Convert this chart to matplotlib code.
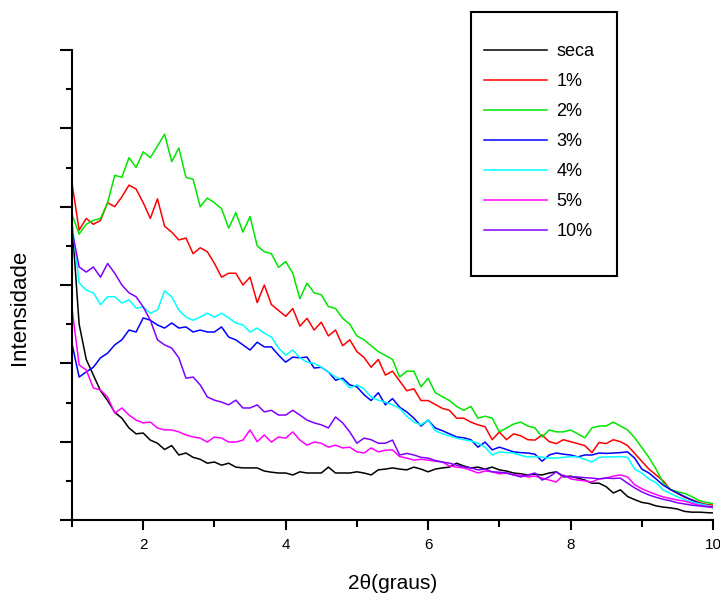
import numpy as np
import matplotlib
matplotlib.use("Agg")
import matplotlib.pyplot as plt
from matplotlib.patches import Rectangle
from matplotlib.ticker import MultipleLocator

plt.rcParams['font.family'] = ['Liberation Sans', 'DejaVu Sans']

# 2theta scan grid (instrument step)
two_theta = np.round(np.arange(1.0, 10.001, 0.1), 1)

seca = [7.6, 5.0, 4.1, 3.7, 3.3, 3.05, 2.75, 2.6, 2.35, 2.2,
        2.22, 2.04, 1.96, 1.8, 1.9, 1.66, 1.71, 1.6, 1.55, 1.45,
        1.48, 1.4, 1.45, 1.35, 1.33, 1.33, 1.33, 1.25, 1.22, 1.2,
        1.2, 1.15, 1.23, 1.2, 1.2, 1.2, 1.35, 1.2, 1.2, 1.2,
        1.23, 1.2, 1.15, 1.28, 1.3, 1.33, 1.3, 1.28, 1.35, 1.3,
        1.23, 1.3, 1.33, 1.35, 1.45, 1.38, 1.33, 1.35, 1.3, 1.35,
        1.28, 1.25, 1.2, 1.18, 1.15, 1.17, 1.15, 1.2, 1.23, 1.1,
        1.12, 1.07, 1.02, 0.94, 0.94, 0.85, 0.69, 0.77, 0.6, 0.52,
        0.45, 0.42, 0.36, 0.33, 0.31, 0.28, 0.22, 0.2, 0.2, 0.19,
        0.18]

p1 = [8.6, 7.4, 7.7, 7.55, 7.65, 8.1, 8.0, 8.25, 8.55, 8.45,
      8.1, 7.7, 8.2, 7.5, 7.35, 7.15, 7.2, 6.8, 6.95, 6.85,
      6.55, 6.2, 6.3, 6.3, 6.0, 6.2, 5.55, 6.0, 5.5, 5.35,
      5.2, 5.4, 4.95, 5.15, 4.85, 5.05, 4.7, 4.85, 4.45, 4.6,
      4.3, 4.15, 3.9, 4.1, 3.7, 3.8, 3.55, 3.3, 3.35, 3.05,
      3.05, 2.95, 2.85, 2.8, 2.6, 2.6, 2.5, 2.43, 2.38, 2.05,
      2.25, 2.05, 2.2, 2.15, 2.05, 2.04, 2.17, 2.0, 1.95, 2.05,
      2.0, 1.95, 1.9, 1.72, 1.98, 1.95, 2.05, 2.0, 1.9, 1.7,
      1.5, 1.3, 1.15, 1.0, 0.78, 0.68, 0.58, 0.52, 0.45, 0.4,
      0.38]

p2 = [7.8, 7.3, 7.55, 7.65, 7.7, 8.1, 8.8, 8.75, 9.25, 9.0,
      9.4, 9.25, 9.55, 9.85, 9.15, 9.5, 8.75, 8.7, 8.0, 8.22,
      8.1, 7.95, 7.45, 7.85, 7.35, 7.75, 7.0, 6.85, 6.8, 6.45,
      6.6, 6.3, 5.65, 6.05, 5.8, 5.75, 5.45, 5.4, 5.15, 5.0,
      4.7, 4.6, 4.45, 4.3, 4.2, 4.1, 3.65, 3.8, 3.8, 3.4,
      3.62, 3.25, 3.15, 3.05, 2.9, 2.8, 2.9, 2.6, 2.65, 2.6,
      2.25, 2.35, 2.45, 2.5, 2.4, 2.35, 2.12, 2.3, 2.25, 2.25,
      2.3, 2.2, 2.1, 2.35, 2.4, 2.4, 2.5, 2.4, 2.3, 2.1,
      1.85, 1.6, 1.3, 0.95, 0.78, 0.72, 0.68, 0.6, 0.5, 0.45,
      0.42]

p3 = [4.5, 3.65, 3.78, 3.9, 4.14, 4.26, 4.47, 4.6, 4.85, 4.8,
      5.16, 5.1, 4.98, 4.9, 5.03, 4.9, 4.93, 4.8, 4.85, 4.8,
      4.8, 4.93, 4.67, 4.6, 4.47, 4.34, 4.54, 4.42, 4.42, 4.21,
      4.03, 4.16, 4.14, 4.16, 3.88, 3.9, 3.78, 3.57, 3.62, 3.45,
      3.4, 3.2, 3.05, 3.25, 2.94, 3.1, 2.88, 2.76, 2.6, 2.4,
      2.55, 2.35, 2.28, 2.2, 2.12, 2.1, 2.05, 1.86, 1.99, 1.79,
      1.86, 1.8, 1.74, 1.72, 1.71, 1.68, 1.5, 1.66, 1.71, 1.68,
      1.66, 1.61, 1.66, 1.66, 1.71, 1.7, 1.71, 1.72, 1.74, 1.58,
      1.3, 1.2, 1.05, 0.89, 0.78, 0.69, 0.6, 0.51, 0.43, 0.38,
      0.31]

p4 = [7.6, 6.05, 5.87, 5.8, 5.5, 5.7, 5.7, 5.54, 5.62, 5.41,
      5.44, 5.28, 5.36, 5.85, 5.7, 5.36, 5.18, 5.1, 5.18, 5.28,
      5.18, 5.28, 5.16, 5.03, 4.98, 4.8, 4.9, 4.77, 4.67, 4.39,
      4.21, 4.34, 4.14, 4.03, 4.0, 3.9, 3.78, 3.65, 3.57, 3.37,
      3.45, 3.35, 3.14, 3.06, 3.01, 2.94, 2.85, 2.65, 2.5, 2.43,
      2.55, 2.28, 2.2, 2.15, 2.09, 2.05, 2.02, 1.96, 1.86, 1.66,
      1.74, 1.72, 1.71, 1.65, 1.61, 1.62, 1.6, 1.58, 1.58, 1.6,
      1.62, 1.61, 1.55, 1.48, 1.6, 1.61, 1.61, 1.62, 1.6, 1.3,
      1.2, 1.05, 0.95, 0.77, 0.68, 0.59, 0.52, 0.46, 0.42, 0.38,
      0.33]

p5 = [5.4, 3.96, 3.83, 3.37, 3.32, 3.14, 2.73, 2.86, 2.68, 2.55,
      2.48, 2.5, 2.35, 2.3, 2.3, 2.25, 2.17, 2.12, 2.09, 1.99,
      2.12, 2.09, 1.99, 1.99, 2.04, 2.3, 2.0, 2.17, 1.99, 2.12,
      2.09, 2.25, 2.04, 1.91, 1.99, 1.96, 1.86, 1.91, 1.84, 1.86,
      1.74, 1.71, 1.84, 1.74, 1.78, 1.79, 1.62, 1.58, 1.53, 1.55,
      1.53, 1.5, 1.48, 1.38, 1.35, 1.33, 1.27, 1.2, 1.25, 1.23,
      1.18, 1.2, 1.15, 1.15, 1.1, 1.12, 1.07, 1.02, 0.97, 1.15,
      1.05, 1.02, 1.0, 0.97, 1.05, 1.07, 1.12, 1.15, 1.1, 0.9,
      0.8, 0.72, 0.65, 0.59, 0.55, 0.51, 0.48, 0.43, 0.38, 0.35,
      0.33]

p10 = [7.4, 6.46, 6.33, 6.46, 6.2, 6.55, 6.3, 6.0, 5.8, 5.7,
       5.44, 5.1, 4.6, 4.47, 4.39, 4.14, 3.62, 3.65, 3.45, 3.14,
       3.06, 3.01, 2.94, 3.06, 2.86, 2.86, 2.94, 2.76, 2.8, 2.68,
       2.68, 2.8, 2.68, 2.55, 2.48, 2.43, 2.35, 2.63, 2.48, 2.25,
       1.96, 2.09, 2.05, 1.96, 1.96, 2.04, 1.66, 1.7, 1.66, 1.6,
       1.58, 1.52, 1.48, 1.45, 1.4, 1.35, 1.33, 1.28, 1.3, 1.23,
       1.22, 1.2, 1.15, 1.1, 1.15, 1.2, 1.02, 1.1, 1.23, 1.12,
       1.1, 1.1, 1.08, 1.07, 1.05, 1.07, 1.06, 1.07, 0.94, 0.82,
       0.72, 0.64, 0.58, 0.53, 0.49, 0.44, 0.41, 0.38, 0.36, 0.34,
       0.33]

labels = ["seca", "1%", "2%", "3%", "4%", "5%", "10%"]
series = [seca, p1, p2, p3, p4, p5, p10]
colors = ["black", "#ff0000", "#00e600", "#0000ff", "#00ffff", "#ff00ff", "#8000ff"]

fig = plt.figure(figsize=(7.2, 5.94), dpi=100)
ax = fig.add_axes([72/720, 74/594, 641/720, 470/594])

handles = []
for ys, c, lab in zip(series, colors, labels):
    h, = ax.plot(two_theta, ys, color=c, lw=1.1, label=lab)
    handles.append(h)

ax.set_xlim(1, 10)
ax.set_ylim(0, 12)
ax.spines['top'].set_visible(False)
ax.spines['right'].set_visible(False)
ax.spines['left'].set_linewidth(1.5)
ax.spines['bottom'].set_linewidth(1.5)

ax.xaxis.set_major_locator(MultipleLocator(2))
ax.xaxis.set_minor_locator(MultipleLocator(1))
ax.yaxis.set_major_locator(MultipleLocator(2))
ax.yaxis.set_minor_locator(MultipleLocator(1))
ax.set_yticklabels([])
ax.tick_params(axis='x', which='major', direction='out', length=7, width=1.5,
               labelsize=11, pad=6)
ax.tick_params(axis='x', which='minor', direction='out', length=5, width=1.5)
ax.tick_params(axis='y', which='major', direction='out', length=8.5, width=1.5)
ax.tick_params(axis='y', which='minor', direction='out', length=4.5, width=1.5)

ax.set_xlabel("2θ(graus)", fontsize=15)
ax.xaxis.set_label_coords(0.5, -0.115)
ax.set_ylabel("Intensidade", fontsize=16)
ax.yaxis.set_label_coords(-0.066, 0.453)

fig.legend(handles, labels, loc='upper left', bbox_to_anchor=(484/720, 1 - 43/594),
           frameon=False, borderpad=0, borderaxespad=0, fontsize=13,
           handlelength=3.5, handletextpad=0.5, labelspacing=0.72)
fig.add_artist(Rectangle((471/720, 1 - 276/594), 146/720, 264/594,
                         transform=fig.transFigure, fill=False, lw=1.5, ec='black'))

fig.savefig("out.png", dpi=100)
